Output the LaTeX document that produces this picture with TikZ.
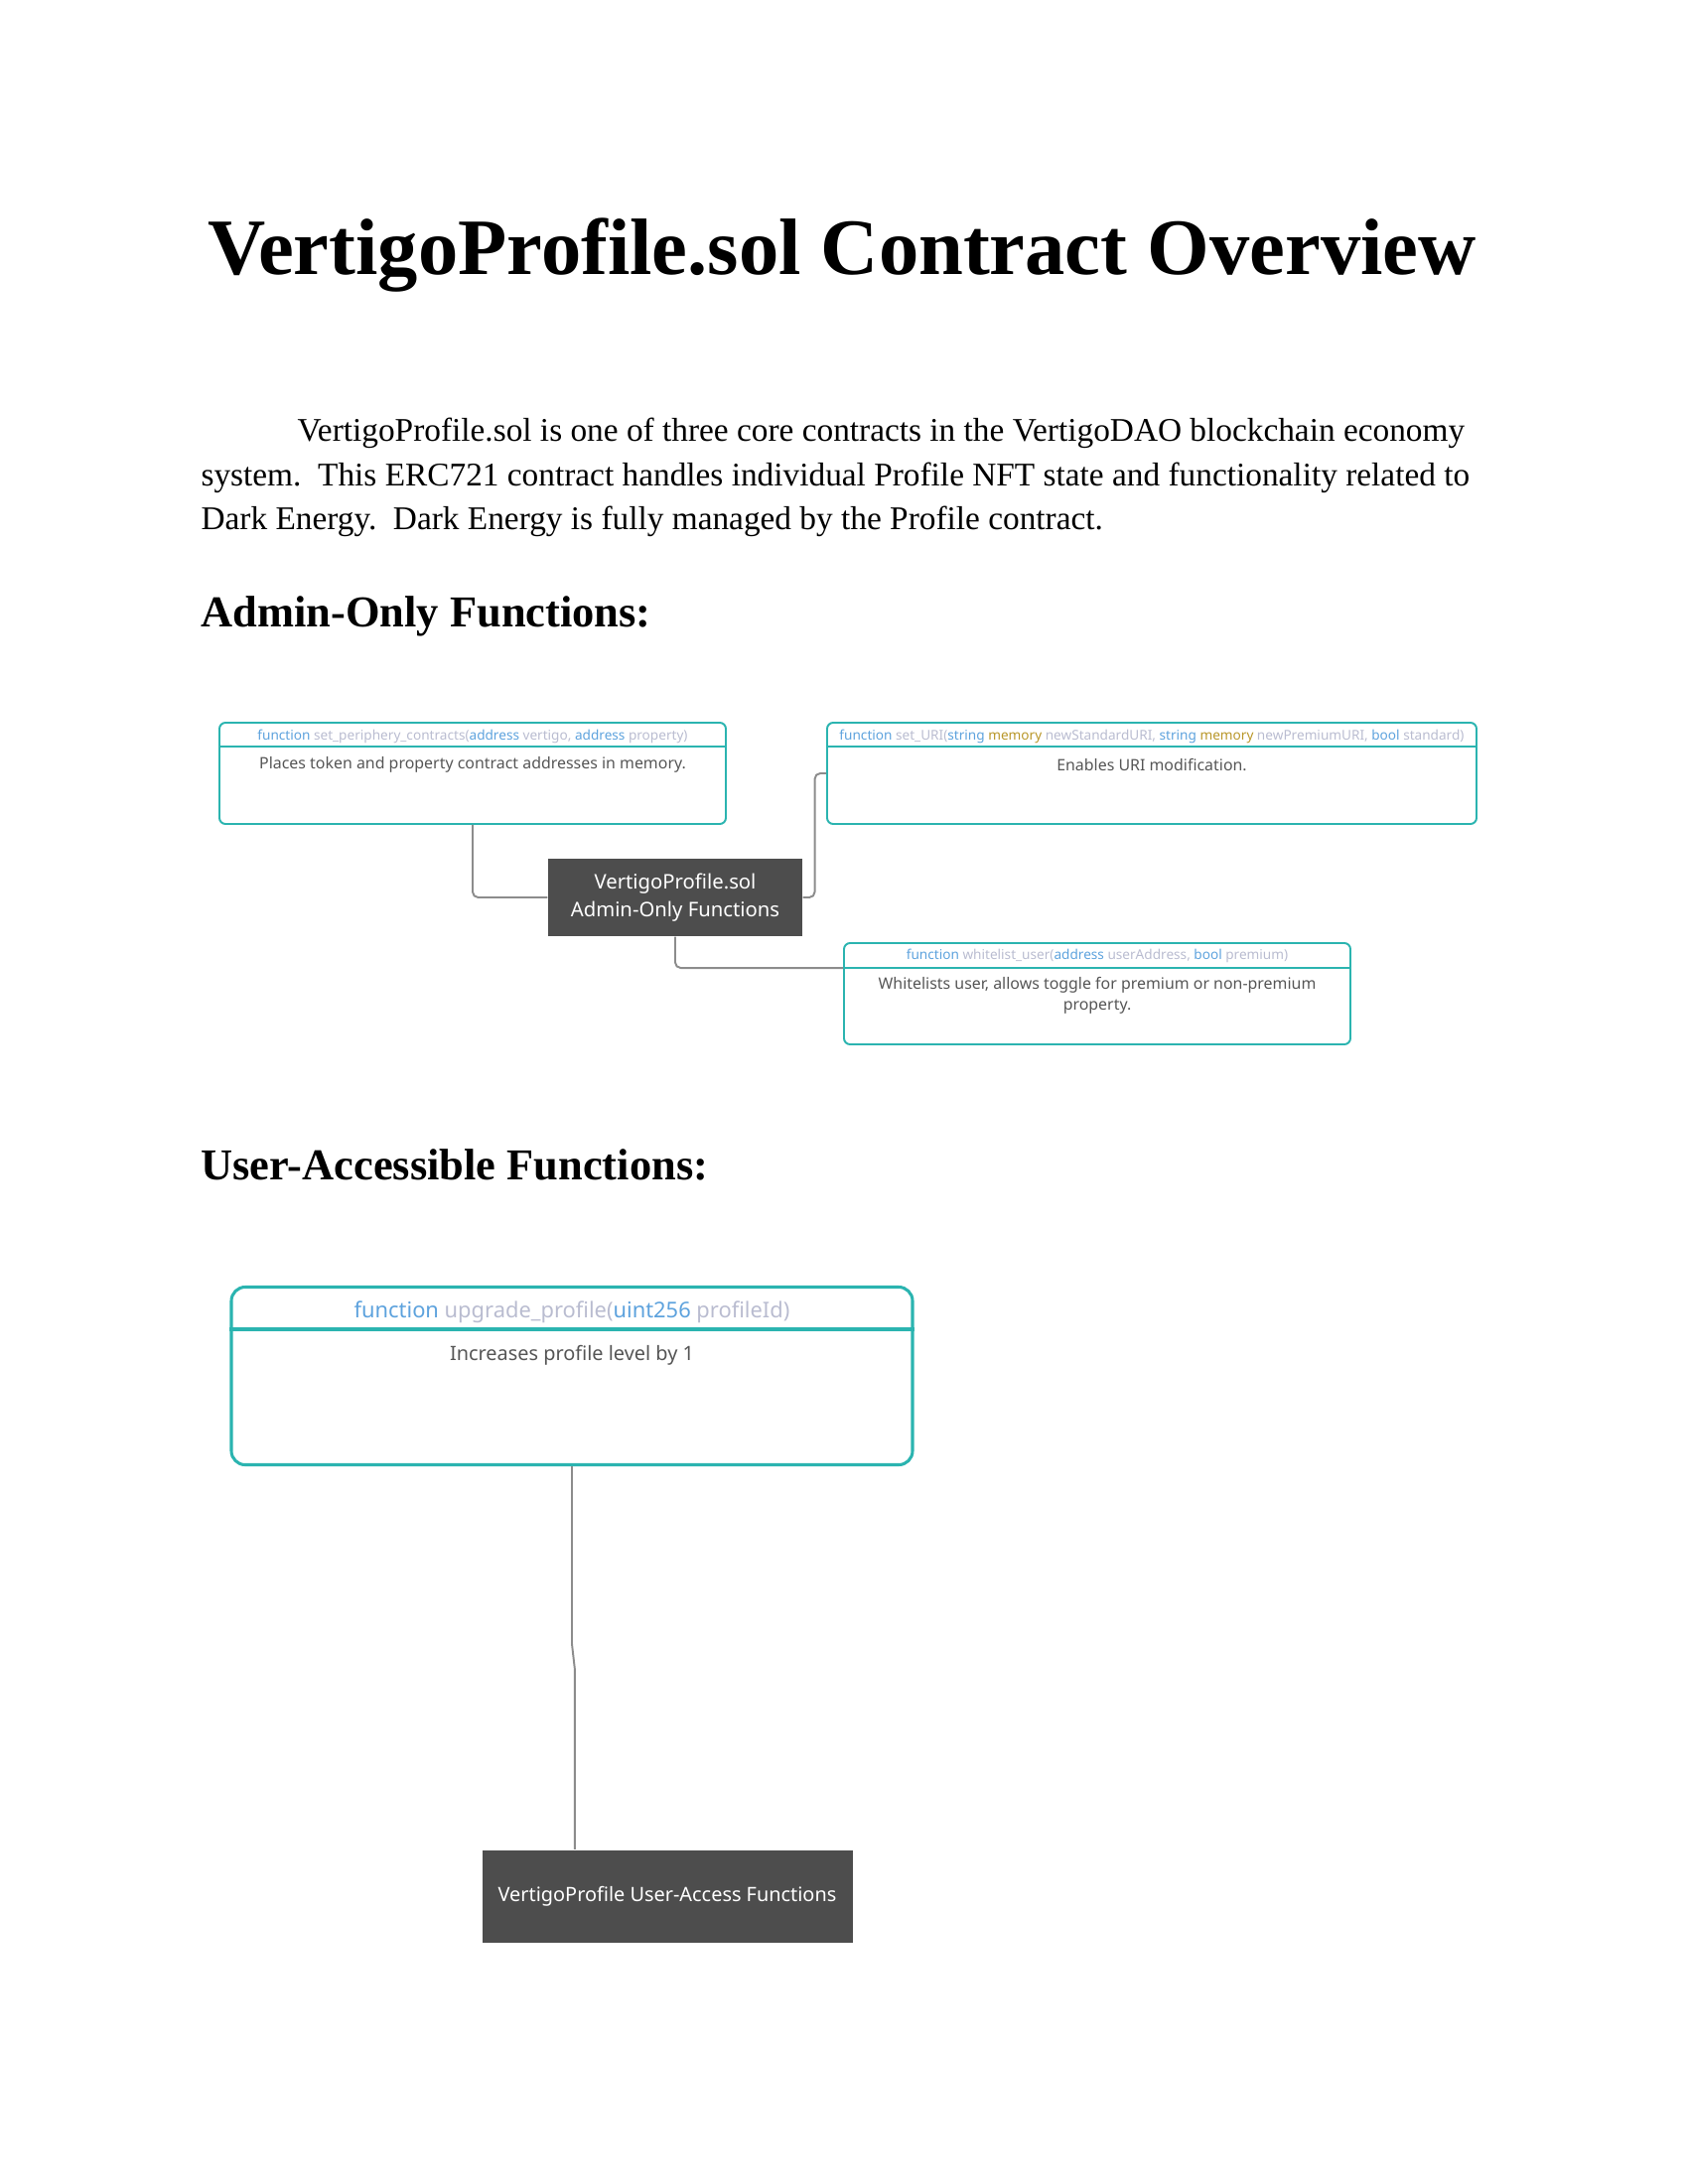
\documentclass[tikz,border=0pt]{standalone}
\usepackage{fontspec}
\setmainfont{Liberation Serif}
\newfontfamily\diagfont{Noto Sans}
\usepackage{tikz}
\usetikzlibrary{positioning,calc}

\definecolor{boxteal}{RGB}{43,180,176}
\definecolor{kwblue}{RGB}{93,162,221}
\definecolor{idgray}{RGB}{185,188,208}
\definecolor{memgold}{RGB}{184,150,40}
\definecolor{bodygray}{RGB}{85,85,85}
\definecolor{darkfill}{RGB}{77,77,77}
\definecolor{linkgray}{RGB}{140,140,140}

\newcommand{\fkw}[1]{\textcolor{kwblue}{#1}}
\newcommand{\fmem}[1]{\textcolor{memgold}{#1}}

\begin{document}
\begin{tikzpicture}[x=0.36pt,y=-0.36pt,
    fnbox/.style={draw=boxteal,line width=0.7pt,rounded corners=2.2pt,inner sep=0pt,
        minimum width=#1*0.36pt,minimum height=102*0.36pt},
    hdr/.style={font=\diagfont\fontsize{4.9}{6}\selectfont,text=idgray,inner sep=0pt},
    body/.style={font=\diagfont\fontsize{5.73}{7.5}\selectfont,text=bodygray,align=center,inner sep=0pt},
    hub/.style={fill=darkfill,text=white,inner sep=0pt,align=center,
        font=\diagfont\fontsize{7.3}{10}\selectfont},
    link/.style={draw=linkgray,line width=0.7pt,rounded corners=2pt}]

\useasboundingbox (0,0) rectangle (1700,2200);

% heading and intro text
\node[anchor=base,font=\bfseries\fontsize{29}{34}\selectfont] (title) at (848,277)
    {VertigoProfile.sol Contract Overview};

\foreach \x/\y/\t [count=\i] in {
    299/444/{VertigoProfile.sol is one of three core contracts in the VertigoDAO blockchain economy},
    202/489/{system.\ \ This ERC721 contract handles individual Profile NFT state and functionality related to},
    202/533/{Dark Energy.\ \ Dark Energy is fully managed by the Profile contract.}}
    \node[anchor=base west,inner sep=0pt,font=\fontsize{12}{16}\selectfont] (intro\i) at (\x,\y) {\t};

\node[anchor=base west,inner sep=0pt,font=\bfseries\fontsize{16}{19}\selectfont] (adminhead) at (202,631)
    {Admin-Only Functions:};
\node[anchor=base west,inner sep=0pt,font=\bfseries\fontsize{16}{19}\selectfont] (userhead) at (202,1188)
    {User-Accessible Functions:};

% admin diagram
\node[hub,minimum width=256*0.36pt,minimum height=78*0.36pt] (adminhub) at (680,904)
    {VertigoProfile.sol\\Admin-Only Functions};

\node[fnbox=510] (periph) at (476,779) {};
\draw[boxteal,line width=0.7pt] ($(periph.north west)+(0,25)$) -- ($(periph.north east)+(0,25)$);
\node[hdr] (periphhdr) at ($(periph.north)+(0,15)$)
    {\fkw{function} set\_periphery\_contracts(\fkw{address} vertigo, \fkw{address} property)};
\node[body] (periphtxt) at ($(periph.north)+(0,43)$)
    {Places token and property contract addresses in memory.};

\node[fnbox=654] (seturi) at (1160,779) {};
\draw[boxteal,line width=0.7pt] ($(seturi.north west)+(0,25)$) -- ($(seturi.north east)+(0,25)$);
\node[hdr] (seturihdr) at ($(seturi.north)+(0,15)$)
    {\fkw{function} set\_URI(\fkw{string} \fmem{memory} newStandardURI, \fkw{string} \fmem{memory} newPremiumURI, \fkw{bool} standard)};
\node[body] (seturitxt) at ($(seturi.north)+(0,43)$)
    {Enables URI modification.};

\node[fnbox=510] (wlist) at (1105,1001) {};
\coordinate (wlistline) at ($(wlist.north west)+(0,26)$);
\draw[boxteal,line width=0.7pt] (wlistline) -- ($(wlist.north east)+(0,26)$);
\node[hdr] (wlisthdr) at ($(wlist.north)+(0,14)$)
    {\fkw{function} whitelist\_user(\fkw{address} userAddress, \fkw{bool} premium)};
\node[body] (wlisttxt) at ($(wlist.north)+(0,54)$)
    {Whitelists user, allows toggle for premium or non-premium\\property.};

\draw[link] (periph.south) |- (adminhub.west);
\draw[link] (adminhub.east) -- ++(12,0) |- (seturi.west);
\draw[link] (adminhub.south) |- (wlistline);

% user diagram
\node[draw=boxteal,line width=1.1pt,rounded corners=5pt,inner sep=0pt,
    minimum width=686*0.36pt,minimum height=179*0.36pt] (upgrade) at (576,1386) {};
\draw[boxteal,line width=1.1pt] ($(upgrade.north west)+(0,44)$) -- ($(upgrade.north east)+(0,44)$);
\node[hdr,font=\diagfont\fontsize{7.88}{9}\selectfont] (upgradehdr) at ($(upgrade.north)+(0,27)$)
    {\fkw{function} upgrade\_profile(\fkw{uint256} profileId)};
\node[body,font=\diagfont\fontsize{7.16}{9}\selectfont] (upgradetxt) at ($(upgrade.north)+(0,70)$)
    {Increases profile level by 1};

\node[hub,minimum width=373*0.36pt,minimum height=93*0.36pt,font=\diagfont\fontsize{7.16}{9}\selectfont]
    (userhub) at (672,1910) {VertigoProfile User-Access Functions};
\coordinate (userin) at ($(userhub.north west)+(94,0)$);

\draw[link,rounded corners=0pt] (upgrade.south) -- ++(0,179) -- ($(userin)+(0,-181)$) -- (userin);

\end{tikzpicture}
\end{document}
